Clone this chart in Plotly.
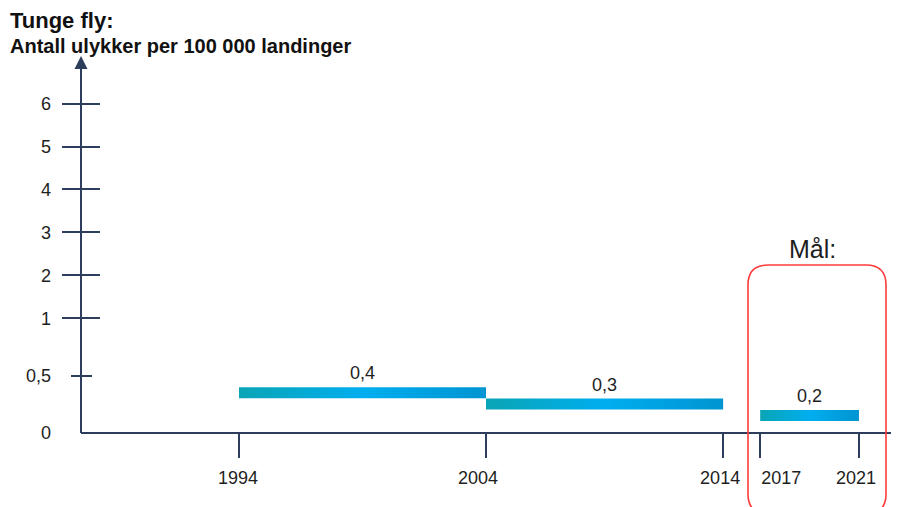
import numpy as np
import plotly.graph_objects as go

# ---------------- data ----------------
period_start = [1994, 2004, 2017]
period_end = [2004, 2014, 2021]
rate_values = [0.4, 0.3, 0.2]
rate_labels = ["0,4", "0,3", "0,2"]
x_tick_years = [1994, 2004, 2014, 2017, 2021]
x_tick_labels = ["1994", "2004", "2014", "2017", "2021"]
y_tick_values = [0, 0.5, 1, 2, 3, 4, 5, 6]
y_tick_labels = ["0", "0,5", "1", "2", "3", "4", "5", "6"]
y_major_ticks = [1, 2, 3, 4, 5, 6]
y_minor_ticks = [0.5]
title_text = "Tunge fly:"
subtitle_text = "Antall ulykker per 100 000 landinger"
goal_text = "Mål:"

# ---------------- scales / layout ----------------
OFF = 8                      # page body margin of the browser
W, H = 899 - OFF, 507 - OFF  # figure size
YEAR_KNOTS = [1994, 2004, 2014, 2017, 2021]
XU_KNOTS = [0, 10, 19.6, 21.1, 25.1]   # broken time axis (gap 2014-2017 compressed)
VAL_KNOTS = [0, 1, 6]
YU_KNOTS = [0, 2, 5.75]                # stretched lower part of value axis
PX_X = 24.7
PX_Y = 57.3
ORIGIN_PX_X = 239 - OFF   # pixel of first year
ORIGIN_PX_Y = 433 - OFF   # pixel of value 0
X_RANGE = [-ORIGIN_PX_X / PX_X, (W - ORIGIN_PX_X) / PX_X]
Y_RANGE = [-(H - ORIGIN_PX_Y) / PX_Y, ORIGIN_PX_Y / PX_Y]
LABEL_DX_PX = [-1, -8, -3, 21, -3]     # horizontal nudges of the year labels


def xu(year):
    return np.interp(year, YEAR_KNOTS, XU_KNOTS)


def yu(v):
    return np.interp(v, VAL_KNOTS, YU_KNOTS)


def pxx(px):
    return X_RANGE[0] + (px - OFF) / PX_X


def pxy(py):
    return Y_RANGE[1] - (py - OFF) / PX_Y


def paper_x(px):
    return (px - OFF) / W


def paper_y(py):
    return 1 - (py - OFF) / H


NAVY = "#2C3E5C"
TEXT = "#1E1E1E"
FONT = "Liberation Sans, Arial, sans-serif"
GRAD = [[0, "#0AA5B5"], [0.5, "#00AEEF"], [1, "#0094D2"]]
BAR_H = 11 / PX_Y
AXIS_X = pxx(81)

fig = go.Figure()

for s, e, v, lab in zip(period_start, period_end, rate_values, rate_labels):
    x0, x1 = float(xu(s)), float(xu(e))
    yt = float(yu(v))
    yb = yt - BAR_H
    fig.add_trace(go.Scatter(
        x=[x0, x1, x1, x0, x0], y=[yt, yt, yb, yb, yt],
        mode="lines", fill="toself",
        fillgradient=dict(type="horizontal", colorscale=GRAD),
        line=dict(width=0, color="rgba(0,0,0,0)"),
        hoverinfo="skip", showlegend=False))
    fig.add_trace(go.Scatter(
        x=[(x0 + x1) / 2], y=[yt + 3.5 / PX_Y], mode="text", text=[lab],
        textposition="top center",
        textfont=dict(family=FONT, size=18, color=TEXT),
        hoverinfo="skip", showlegend=False))

axis_pos_x = (AXIS_X - X_RANGE[0]) / (X_RANGE[1] - X_RANGE[0])
axis_pos_y = (0 - Y_RANGE[0]) / (Y_RANGE[1] - Y_RANGE[0])

common_x = dict(range=X_RANGE, domain=[0, 1], anchor="free", position=axis_pos_y,
                showgrid=False, zeroline=False, showline=False)
common_y = dict(range=Y_RANGE, domain=[0, 1], anchor="free", position=axis_pos_x,
                showgrid=False, zeroline=False, showline=False)

fig.update_layout(
    width=W, height=H, autosize=False,
    margin=dict(l=0, r=0, t=0, b=0),
    paper_bgcolor="white", plot_bgcolor="white",
    xaxis=dict(**common_x, tickmode="array",
               tickvals=[float(xu(y)) for y in x_tick_years],
               showticklabels=False, ticks="outside", ticklen=24, tickwidth=2,
               tickcolor=NAVY),
    xaxis2=dict(**common_x, overlaying="x", tickmode="array",
                tickvals=[float(xu(y)) + d / PX_X for y, d in zip(x_tick_years, LABEL_DX_PX)],
                ticktext=x_tick_labels, ticks="outside", ticklen=24,
                tickcolor="rgba(0,0,0,0)", ticklabelstandoff=4, tickangle=0,
                tickfont=dict(family=FONT, size=18, color=TEXT)),
    yaxis=dict(**common_y, tickmode="array",
               tickvals=[float(yu(v)) for v in y_tick_values], ticktext=y_tick_labels,
               ticks="", ticklabelstandoff=30,
               tickfont=dict(family=FONT, size=18, color=TEXT)),
    yaxis2=dict(**common_y, overlaying="y", showticklabels=False, tickmode="array",
                tickvals=[float(yu(v)) for v in y_major_ticks], ticks="outside",
                ticklen=19, tickwidth=2, tickcolor=NAVY,
                minor=dict(tickmode="array", tickvals=[float(yu(v)) for v in y_minor_ticks],
                           ticks="outside", ticklen=10, tickwidth=2, tickcolor=NAVY)),
    yaxis3=dict(**common_y, overlaying="y", showticklabels=False, tickmode="array",
                tickvals=[float(yu(v)) for v in y_major_ticks], ticks="inside",
                ticklen=18, tickwidth=2, tickcolor=NAVY,
                minor=dict(tickmode="array", tickvals=[float(yu(v)) for v in y_minor_ticks],
                           ticks="inside", ticklen=10, tickwidth=2, tickcolor=NAVY)),
)
# dummy traces so overlay axes render
fig.add_trace(go.Scatter(x=[None], y=[None], yaxis="y2", showlegend=False))
fig.add_trace(go.Scatter(x=[None], y=[None], yaxis="y3", showlegend=False))
fig.add_trace(go.Scatter(x=[None], y=[None], xaxis="x2", showlegend=False))

# axis lines + arrowheads
fig.add_shape(type="line", x0=AXIS_X, x1=AXIS_X, y0=0, y1=pxy(66),
              line=dict(color=NAVY, width=2), layer="above")
fig.add_shape(type="path", fillcolor=NAVY, line=dict(width=0),
              path=f"M {pxx(74.5)},{pxy(69)} L {pxx(87.5)},{pxy(69)} L {AXIS_X},{pxy(56)} Z")
fig.add_shape(type="line", x0=AXIS_X, x1=pxx(893), y0=0, y1=0,
              line=dict(color=NAVY, width=2), layer="above")
fig.add_shape(type="path", fillcolor=NAVY, line=dict(width=0),
              path=f"M {pxx(892)},{pxy(426)} L {pxx(892)},{pxy(440)} L {pxx(905)},0 Z")

# rounded goal box
L, R, T, B = pxx(748), pxx(886), pxy(265), pxy(514)
rx, ry = 20 / PX_X, 20 / PX_Y
box = (f"M {L+rx},{T} L {R-rx},{T} Q {R},{T} {R},{T-ry} L {R},{B+ry} "
       f"Q {R},{B} {R-rx},{B} L {L+rx},{B} Q {L},{B} {L},{B+ry} L {L},{T-ry} Q {L},{T} {L+rx},{T} Z")
fig.add_shape(type="path", path=box, line=dict(color="#FF3B3B", width=1.6))

fig.add_annotation(xref="paper", yref="paper", x=paper_x(9), y=paper_y(20.5), xanchor="left",
                   yanchor="middle", text=f"<b>{title_text}</b>", showarrow=False,
                   borderpad=0, font=dict(family=FONT, size=22, color="#111111"))
fig.add_annotation(xref="paper", yref="paper", x=paper_x(9), y=paper_y(46), xanchor="left",
                   yanchor="middle", text=f"<b>{subtitle_text}</b>", showarrow=False,
                   borderpad=0, font=dict(family=FONT, size=20, color="#111111"))
fig.add_annotation(xref="paper", yref="paper", x=paper_x(812), y=paper_y(249), xanchor="center",
                   yanchor="middle", text=goal_text, showarrow=False,
                   font=dict(family=FONT, size=25, color=TEXT))

fig.write_html("out.html")
